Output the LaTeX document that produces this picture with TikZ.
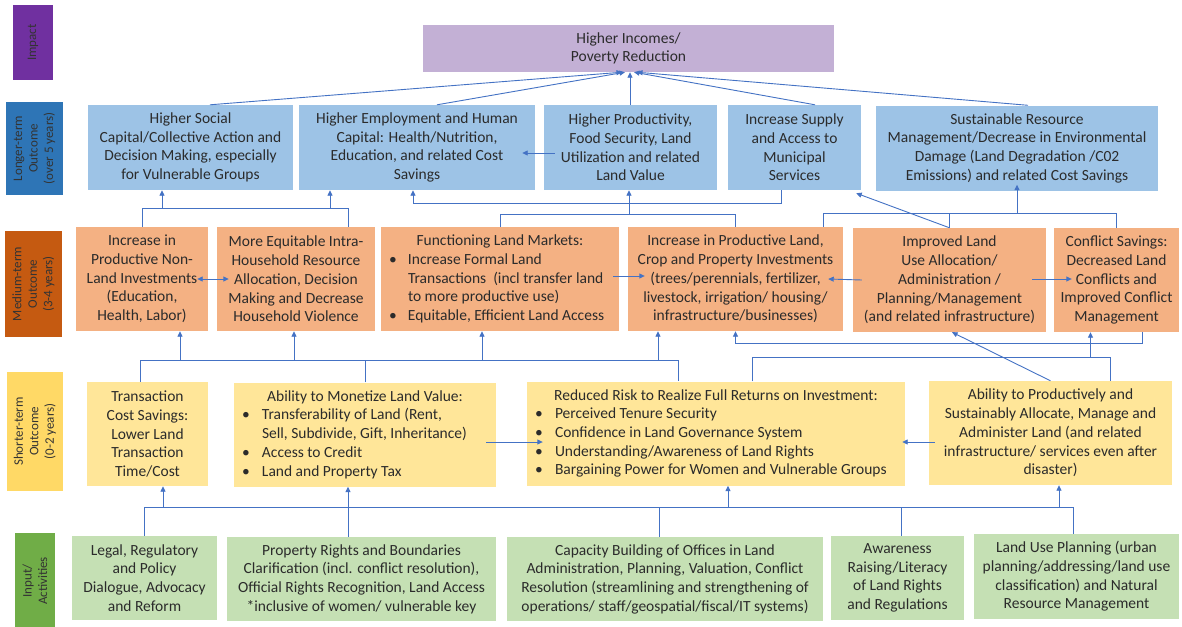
\documentclass[tikz,border=0pt]{standalone}
\usepackage{fontspec}
\setmainfont{Carlito}
\usetikzlibrary{arrows.meta,calc}
\definecolor{lineblue}{HTML}{4472C4}
\definecolor{txt}{HTML}{2B2B2B}
\definecolor{impL}{HTML}{C3B0D5}
\definecolor{blueL}{HTML}{9DC3E6}
\definecolor{orangeL}{HTML}{F4B183}
\definecolor{yellowL}{HTML}{FFE699}
\definecolor{greenL}{HTML}{C5E0B4}
\definecolor{impD}{HTML}{7030A0}
\definecolor{blueD}{HTML}{2E75B6}
\definecolor{orangeD}{HTML}{C55A11}
\definecolor{yellowD}{HTML}{FFD966}
\definecolor{greenD}{HTML}{70AD47}
\newcommand\bitem[3]{\makebox[#1][l]{\makebox[#2][l]{\textbullet}#3}}
\newcommand\bcont[3]{\makebox[#1][l]{\hspace*{#2}#3}}
\begin{document}
\begin{tikzpicture}[x=1pt,y=-1pt,
  box/.style={inner sep=0pt, align=center, font=\fontsize{15.5}{18.7}\selectfont, text=txt},
  lab/.style={inner sep=0pt, align=center, rotate=90, font=\fontsize{13}{15.5}\selectfont, text=black!80},
  ln/.style={draw=lineblue, line width=0.9pt},
  arr/.style={ln, -{Triangle[length=5.5pt,width=5pt]}},
  darr/.style={ln, {Triangle[length=5.5pt,width=5pt]}-{Triangle[length=5.5pt,width=5pt]}},
]
\fill[white] (0,0) rectangle (1182,626);
\useasboundingbox (0,0) rectangle (1182,626);

% ---- row labels ----
\node[lab, fill=impD, minimum width=75pt, minimum height=40pt] (labA) at (33,42.5) {Impact};
\node[lab, fill=blueD, minimum width=93pt, minimum height=57pt] (labB) at (34.5,148.5) {Longer-term\\Outcome\\(over 5 years)};
\node[lab, fill=orangeD, minimum width=106pt, minimum height=57pt] (labC) at (33.5,284) {Medium-term\\Outcome\\(3-4 years)};
\node[lab, fill=yellowD, minimum width=119pt, minimum height=56pt] (labD) at (35,431.5) {Shorter-term\\Outcome\\(0-2 years)};
\node[lab, fill=greenD, minimum width=96pt, minimum height=40pt] (labE) at (35,581) {Input/\\Activities};

% ---- impact ----
\node[box, fill=impL, minimum width=411pt, minimum height=47pt] (Imp) at (628.5,48.5) {Higher Incomes/\\Poverty Reduction};

% ---- longer-term ----
\node[box, fill=blueL, minimum width=205pt, minimum height=85pt] (L1) at (190.5,147.5) {Higher Social\\Capital/Collective Action and\\Decision Making, especially\\for Vulnerable Groups};
\node[box, fill=blueL, minimum width=236pt, minimum height=85pt] (L2) at (417,147.5) {Higher Employment and Human\\Capital: Health/Nutrition,\\Education, and related Cost\\Savings};
\node[box, fill=blueL, minimum width=173pt, minimum height=85pt] (L3) at (630.5,147.5) {Higher Productivity,\\Food Security, Land\\Utilization and related\\Land Value};
\node[box, fill=blueL, minimum width=133pt, minimum height=85pt] (L4) at (794.5,147.5) {Increase Supply\\and Access to\\Municipal\\Services};
\node[box, fill=blueL, minimum width=282pt, minimum height=85pt] (L5) at (1017,148) {Sustainable Resource\\Management/Decrease in Environmental\\Damage (Land Degradation /C02\\Emissions) and related Cost Savings};

% ---- medium-term ----
\node[box, fill=orangeL, minimum width=132pt, minimum height=104pt] (M1) at (142,279) {Increase in\\Productive Non-\\Land Investments\\(Education,\\Health, Labor)};
\node[box, fill=orangeL, minimum width=158pt, minimum height=104pt] (M2) at (296,279) {More Equitable Intra-\\Household Resource\\Allocation, Decision\\Making and Decrease\\Household Violence};
\node[box, fill=orangeL, minimum width=238pt, minimum height=104pt] (M3) at (500,279) {Functioning Land Markets:\\
\bitem{222pt}{19pt}{Increase Formal Land}\\
\bcont{222pt}{19pt}{Transactions\ \ (incl transfer land}\\
\bcont{222pt}{19pt}{to more productive use)}\\
\bitem{222pt}{19pt}{Equitable, Efficient Land Access}};
\node[box, fill=orangeL, minimum width=215pt, minimum height=104pt] (M4) at (735.5,279) {Increase in Productive Land,\\Crop and Property Investments\\(trees/perennials, fertilizer,\\livestock, irrigation/ housing/\\infrastructure/businesses)};
\node[box, fill=orangeL, minimum width=193pt, minimum height=104pt] (M5) at (949.5,280) {Improved Land\\Use Allocation/\\Administration /\\Planning/Management\\(and related infrastructure)};
\node[box, fill=orangeL, minimum width=125pt, minimum height=104pt] (M6) at (1116.5,280) {Conflict Savings:\\Decreased Land\\Conflicts and\\Improved Conflict\\Management};

% ---- shorter-term ----
\node[box, fill=yellowL, minimum width=121pt, minimum height=104pt] (S1) at (147.5,434) {Transaction\\Cost Savings:\\Lower Land\\Transaction\\Time/Cost};
\node[box, fill=yellowL, minimum width=262pt, minimum height=104pt] (S2) at (365,434.5) {Ability to Monetize Land Value:\\
\bitem{246pt}{20pt}{Transferability of Land (Rent,}\\
\bcont{246pt}{20pt}{Sell, Subdivide, Gift, Inheritance)}\\
\bitem{246pt}{20pt}{Access to Credit}\\
\bitem{246pt}{20pt}{Land and Property Tax}};
\node[box, fill=yellowL, minimum width=378pt, minimum height=104pt] (S3) at (716,433.5) {Reduced Risk to Realize Full Returns on Investment:\\
\bitem{362pt}{20pt}{Perceived Tenure Security}\\
\bitem{362pt}{20pt}{Confidence in Land Governance System}\\
\bitem{362pt}{20pt}{Understanding/Awareness of Land Rights}\\
\bitem{362pt}{20pt}{Bargaining Power for Women and Vulnerable Groups}};
\node[box, fill=yellowL, minimum width=243pt, minimum height=104pt] (S4) at (1050.5,433) {Ability to Productively and\\Sustainably Allocate, Manage and\\Administer Land (and related\\infrastructure/ services even after\\disaster)};

% ---- inputs ----
\node[box, fill=greenL, minimum width=145pt, minimum height=84pt] (I1) at (144.5,578) {Legal, Regulatory\\and Policy\\Dialogue, Advocacy\\and Reform};
\node[box, fill=greenL, minimum width=269pt, minimum height=84pt] (I2) at (361.5,579) {Property Rights and Boundaries\\Clarification (incl. conflict resolution),\\Official Rights Recognition, Land Access\\*inclusive of women/ vulnerable key};
\node[box, fill=greenL, minimum width=316pt, minimum height=84pt] (I3) at (665,579) {Capacity Building of Offices in Land\\Administration, Planning, Valuation, Conflict\\Resolution (streamlining and strengthening of\\operations/ staff/geospatial/fiscal/IT systems)};
\node[box, fill=greenL, minimum width=133pt, minimum height=84pt] (I4) at (897.5,578) {Awareness\\Raising/Literacy\\of Land Rights\\and Regulations};
\node[box, fill=greenL, minimum width=205pt, minimum height=85pt] (I5) at (1076.5,576.5) {Land Use Planning (urban\\planning/addressing/land use\\classification) and Natural\\Resource Management};

% ---- helper coordinates ----
\coordinate (yA) at (0,208);
\coordinate (yB1) at (0,214);
\coordinate (yB2) at (0,203);
\coordinate (yC) at (0,213);
\coordinate (yD) at (0,360);
\coordinate (yE) at (0,343);
\coordinate (yF) at (0,357);
\coordinate (yG) at (0,507);

% ---- impact arrows ----
\draw[arr] ($(L1.north)+(19.5,0)$) -- ($(Imp.south)+(-6.5,0)$);
\draw[arr] ($(L2.north)+(20,0)$) -- ($(Imp.south)+(-3.5,0)$);
\draw[arr] ($(L3.north)+(-0.5,0)$) -- ($(Imp.south)+(1.5,0)$);
\draw[arr] ($(L4.north)+(20.5,0)$) -- ($(Imp.south)+(5.5,0)$);
\draw[arr] ($(L5.north)+(11,0)$) -- ($(Imp.south)+(8.5,0)$);

% L3 -> L2
\draw[arr] ($(L3.west)+(11,5.5)$) -- ($(L2.east)+(-13,5.5)$);

% ---- medium -> longer ----
\coordinate (m2t) at ($(M2.north)+(52,0)$);
\coordinate (l1b) at ($(L1.south)+(-28.5,0)$);
\coordinate (l2b) at ($(L2.south)+(-87,0)$);
\draw[ln] (M1.north) -- (M1.north |- yA) -- (m2t |- yA) -- (m2t);
\draw[arr] (l1b |- yA) -- (l1b);
\draw[arr] (l2b |- yA) -- (l2b);

\coordinate (l3b) at ($(L3.south)+(-1.5,0)$);
\coordinate (l2b2) at ($(L2.south)+(-4,0)$);
\coordinate (l4b) at ($(L4.south)+(-13.5,0)$);
\draw[ln] (M3.north) -- (M3.north |- yB1) -- (M4.north |- yB1) -- (M4.north);
\draw[arr] (l3b |- yB1) -- (l3b);
\draw[ln] (l2b2 |- yB2) -- (l4b |- yB2) -- (l4b);
\draw[arr] (l2b2 |- yB2) -- (l2b2);

\coordinate (m4t2) at ($(M4.north)+(87.5,0)$);
\coordinate (l5b) at ($(L5.south)+(0,-6)$);
\draw[ln] (m4t2) -- (m4t2 |- yC) -- (M6.north |- yC) -- (M6.north);
\draw[ln] (M5.north) -- (M5.north |- yC);
\draw[arr] (l5b |- yC) -- (l5b);

\coordinate (l4d) at ($(L4.south east)+(-5,3)$);
\draw[arr] (M5.north) -- (l4d);

% ---- medium horizontals ----
\draw[darr] ($(M1.east)+(-11,0)$) -- ($(M2.west)+(12,0)$);
\draw[arr] ($(M3.east)+(-6,-3)$) -- ($(M4.west)+(17,-3)$);
\draw[arr] ($(M5.west)+(9,0)$) -- ($(M4.east)+(-15,0)$);
\draw[arr] ($(M5.east)+(-14,-1)$) -- ($(M6.west)+(18,-1)$);

% ---- shorter -> medium ----
\coordinate (s1t) at ($(S1.north)+(-7.5,0)$);
\coordinate (s3t) at ($(S3.north)+(-38,0)$);
\coordinate (m1b) at ($(M1.south)+(38,0)$);
\coordinate (m2b) at ($(M2.south)+(-2,0)$);
\coordinate (m3b) at ($(M3.south)+(-18,0)$);
\coordinate (m4b) at ($(M4.south)+(-77.5,0)$);
\draw[ln] (s1t) -- (s1t |- yD) -- (s3t |- yD) -- (s3t);
\draw[ln] (S2.north) -- (S2.north |- yD);
\draw[arr] (m1b |- yD) -- (m1b);
\draw[arr] (m2b |- yD) -- (m2b);
\draw[arr] (m3b |- yD) -- (m3b);
\draw[arr] (m4b |- yD) -- (m4b);

\coordinate (m6b1) at ($(M6.south)+(25.5,0)$);
\draw[arr] (m6b1) -- (m6b1 |- yE) -- (M4.south |- yE) -- (M4.south);

\coordinate (s3t2) at ($(S3.north)+(36,0)$);
\coordinate (s4t) at ($(S4.north)+(59.5,0)$);
\coordinate (m6b2) at ($(M6.south)+(-26,0)$);
\draw[ln] (s3t2) -- (s3t2 |- yF) -- (s4t |- yF) -- (s4t);
\draw[arr] (m6b2 |- yF) -- (m6b2);

\coordinate (m5b) at ($(M5.south)+(2.5,0)$);
\draw[arr] (S4.north) -- (m5b);

% ---- shorter horizontals ----
\draw[arr] ($(S2.east)+(-10,7.5)$) -- ($(S3.west)+(16,8.5)$);
\draw[arr] ($(S4.west)+(6,9)$) -- ($(S3.east)+(-3,8.5)$);

% ---- inputs -> shorter ----
\coordinate (i2t) at ($(I2.north)+(-13.5,0)$);
\coordinate (i3t) at ($(I3.north)+(-6,0)$);
\coordinate (i4t) at ($(I4.north)+(3.5,0)$);
\coordinate (i5t) at ($(I5.north)+(-3.5,0)$);
\coordinate (s1b) at ($(S1.south)+(15.5,0)$);
\coordinate (s2b) at ($(S2.south)+(-17,0)$);
\coordinate (s3b) at ($(S3.south)+(12,0)$);
\coordinate (s4b) at ($(S4.south)+(8.5,0)$);
\draw[ln] (I1.north) -- (I1.north |- yG) -- (i5t |- yG) -- (i5t);
\draw[ln] (i3t) -- (i3t |- yG);
\draw[ln] (i4t) -- (i4t |- yG);
\draw[arr] (s1b |- yG) -- (s1b);
\draw[arr] (i2t) -- (s2b);
\draw[arr] (s3b |- yG) -- (s3b);
\draw[arr] (s4b |- yG) -- (s4b);
\end{tikzpicture}
\end{document}
